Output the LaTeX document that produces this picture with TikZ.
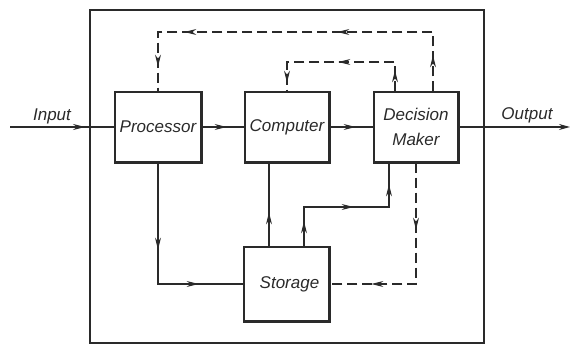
\documentclass[tikz,border=0pt]{standalone}
\usepackage{fontspec}
\setmainfont{Liberation Sans}
\usetikzlibrary{arrows.meta,decorations.markings,calc}
\definecolor{ink}{HTML}{2A2A2A}
\newcommand{\tipmark}{\arrow[ink,line width=1pt]{Stealth[length=12pt,width=6pt]}}
\begin{document}
\begin{tikzpicture}[x=1pt,y=-1pt,
  >={Stealth[length=11pt,width=6pt]},
  conn/.style={line width=1.4pt,draw=ink},
  dashline/.style={line width=1.3pt,draw=ink,dash pattern=on 10pt off 5pt},
  tips/.style={decoration={markings,#1},postaction={decorate}},
  box/.style={draw=ink,line width=1.3pt,inner sep=0pt,minimum height=70pt,
              font=\fontsize{17}{25}\selectfont\itshape,text=ink},
  lbl/.style={inner sep=0pt,font=\fontsize{17}{25}\selectfont\itshape,text=ink}]
\useasboundingbox (0,0) rectangle (571,347);
% outer frame
\draw[line width=1.8pt,draw=ink] (90,10) rectangle (484,343);
% blocks
\node[box,minimum width=86pt] (proc) at (158,127) {Processor};
\node[box,minimum width=84pt] (comp) at (287,127) {Computer};
\node[box,minimum width=84pt,align=center] (dm) at (416,127) {Decision\\Maker};
\node[box,minimum width=85pt,minimum height=74pt] (stor) at (286.5,284) {\hspace*{6pt}Storage};
\foreach \n in {proc,comp,dm,stor}
  \draw[line width=2.4pt,draw=ink] (\n.north east) -- (\n.south east) -- (\n.south west);
% labels
\node[lbl] (inlbl) at (52,116) {Input};
\node[lbl] (outlbl) at (527,115) {Output};
\coordinate (inS) at (10,127);
\coordinate (outE) at (570,127);
% main flow
\draw[conn,tips={mark=at position 75pt with {\tipmark}}] (inS) -- (proc.west);
\draw[conn,tips={mark=at position 25pt with {\tipmark}}] (proc.east) -- (comp.west);
\draw[conn,tips={mark=at position 26pt with {\tipmark}}] (comp.east) -- (dm.west);
\draw[conn,->] (dm.east) -- (outE);
% dashed feedback from decision maker to processor
\coordinate (dmA) at ([xshift=17pt]dm.north);
\draw[dashline,tips={mark=at position 36pt with {\tipmark},
                     mark=at position 155pt with {\tipmark},
                     mark=at position 308pt with {\tipmark},
                     mark=at position 369pt with {\tipmark}}]
  (dmA) |- (proc.north |- 0,32) -- (proc.north);
% dashed feedback from decision maker to computer
\coordinate (dmC) at ([xshift=-21pt]dm.north);
\draw[dashline,tips={mark=at position 21pt with {\tipmark},
                     mark=at position 86pt with {\tipmark},
                     mark=at position 158pt with {\tipmark}}]
  (dmC) |- (comp.north |- 0,62) -- (comp.north);
% processor to storage
\draw[conn,tips={mark=at position 87pt with {\tipmark},
                 mark=at position 162pt with {\tipmark}}]
  (proc.south) |- (stor.west);
% storage to computer
\coordinate (sA) at ([xshift=-17.5pt]stor.north);
\draw[conn,tips={mark=at position 34pt with {\tipmark}}]
  (sA) -- (sA |- comp.south);
% storage to decision maker
\coordinate (sB) at ([xshift=17.5pt]stor.north);
\coordinate (dmB) at ([xshift=-27pt]dm.south);
\draw[conn,tips={mark=at position 25pt with {\tipmark},
                 mark=at position 89pt with {\tipmark},
                 mark=at position 147pt with {\tipmark}}]
  (sB) |- (dmB |- 0,207) -- (dmB);
% dashed from decision maker to storage
\draw[dashline,tips={mark=at position 67pt with {\tipmark},
                     mark=at position 166pt with {\tipmark}}]
  (dm.south) |- (stor.east);
\end{tikzpicture}
\end{document}
